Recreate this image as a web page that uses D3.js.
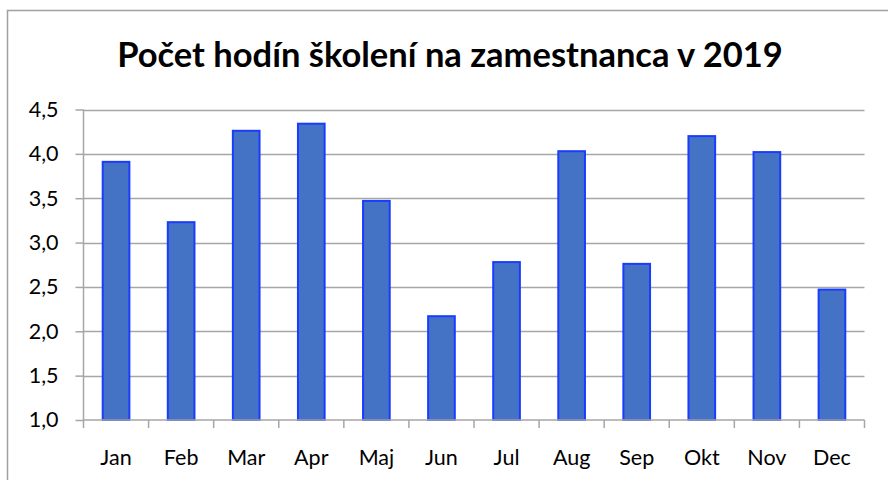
<!DOCTYPE html>
<html><head><meta charset="utf-8">
<script src="https://cdn.jsdelivr.net/npm/d3@7"></script>
<style>body{margin:0;background:#fff;} svg{display:block;}</style>
</head><body>
<svg id="c" width="888" height="480"></svg>
<script>
const months = ["Jan","Feb","Mar","Apr","Maj","Jun","Jul","Aug","Sep","Okt","Nov","Dec"];
const values = [3.91,3.23,4.26,4.34,3.47,2.17,2.78,4.03,2.76,4.20,4.02,2.47];
const yTicks = [1.0,1.5,2.0,2.5,3.0,3.5,4.0,4.5];
const title = "Počet hodín školení na zamestnanca v 2019";

const svg = d3.select("#c");
const font = "Lato, 'Open Sans', sans-serif";
svg.append("rect").attr("x",7.5).attr("y",10.5).attr("width",900).attr("height",500)
  .attr("fill","#fff").attr("stroke","#a0a0a0").attr("stroke-width",1.5);

const L=83.5, R=864.5, T=109.5, B=420;
const x = d3.scaleBand().domain(months).range([L,R]).paddingInner(0.59).paddingOuter(0.295);
const xb = d3.scaleBand().domain(months).range([L,R]);
const y = d3.scaleLinear().domain([1,4.5]).range([B,T]);

// gridlines
svg.append("g").selectAll("line").data(yTicks.slice(1)).join("line")
  .attr("x1",L).attr("x2",R).attr("y1",d=>Math.round(y(d))+0.5).attr("y2",d=>Math.round(y(d))+0.5)
  .attr("stroke","#a6a6a6").attr("stroke-width",1.5);

// bars
svg.append("g").selectAll("rect").data(values).join("rect")
  .attr("x",(d,i)=>x(months[i])).attr("width",x.bandwidth())
  .attr("y",d=>y(d)).attr("height",d=>B-y(d))
  .attr("fill","#4472C4").attr("stroke","#1a3cff").attr("stroke-width",2);

// y axis
const ya = svg.append("g").attr("transform",`translate(${L},0)`)
  .call(d3.axisLeft(y).tickValues(yTicks).tickSize(8).tickPadding(17)
    .tickFormat(d=>d3.format(".1f")(d).replace(".",",")));
ya.select(".domain").attr("stroke","#a6a6a6").attr("stroke-width",1.5).attr("d",`M0,${T}V${B}`);
ya.selectAll(".tick line").attr("stroke","#a6a6a6").attr("stroke-width",1.5);
ya.selectAll(".tick text").attr("font-family",font).attr("font-size",21.5).attr("fill","#000");

// x axis
const xa = svg.append("g").attr("transform",`translate(0,${B})`)
  .call(d3.axisBottom(xb).tickSize(0).tickPadding(0));
xa.select(".domain").attr("stroke","#a6a6a6").attr("stroke-width",1.5).attr("d",`M${L},0H${R}`);
xa.selectAll(".tick text").attr("font-family",font).attr("font-size",21.5).attr("fill","#000")
  .attr("dy",null).attr("y",45);
xa.append("g").selectAll("line").data(d3.range(13)).join("line")
  .attr("x1",i=>L+i*xb.step()).attr("x2",i=>L+i*xb.step()).attr("y1",0).attr("y2",8)
  .attr("stroke","#a6a6a6").attr("stroke-width",1.5);

// title
const t = svg.append("text").attr("x",450).attr("y",67).attr("text-anchor","middle")
  .attr("font-family",font).attr("font-weight","bold").attr("font-size",30).attr("fill","#000").text(title);
const w = t.node().getComputedTextLength();
t.attr("font-size", 30*666/w);
</script>
</body></html>
